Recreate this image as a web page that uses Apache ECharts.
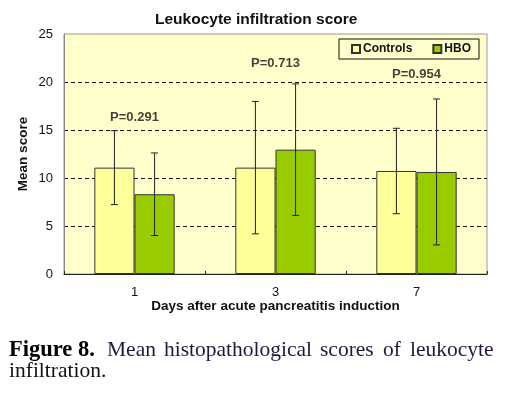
<!DOCTYPE html>
<html><head><meta charset="utf-8">
<script src="https://cdn.jsdelivr.net/npm/echarts@6/dist/echarts.min.js"></script>
<style>html,body{margin:0;padding:0;background:#fff}#c{width:507px;height:396px}</style>
</head><body><div id="c"></div>
<script>
const categories = ['1', '3', '7'];
const controlsMean = [11.08, 11.08, 10.73];
const controlsSD = [3.85, 6.9, 4.45];
const hboMean = [8.31, 12.95, 10.63];
const hboSD = [4.3, 6.85, 7.6];
const pLabels = ['P=0.291', 'P=0.713', 'P=0.954'];
const pLabelLevel = [16.3, 21.9, 20.8];
const yTicks = [0, 5, 10, 15, 20, 25];

const FONT = "'Liberation Sans', Arial, sans-serif";
const SERIF = "'Liberation Serif', 'Times New Roman', serif";
const CAT_GAP = 0.43;

function errItem(sign) {
  return function (params, api) {
    const i = api.value(0);
    const m = api.value(1), s = api.value(2);
    const band = api.size([1, 0])[0];
    const off = sign * band * (1 - CAT_GAP) / 4;
    const top = api.coord([i, m + s]);
    const bot = api.coord([i, m - s]);
    const x = top[0] + off;
    const w = 3.5;
    const st = { stroke: '#222', lineWidth: 1 };
    return { type: 'group', children: [
      { type: 'line', shape: { x1: x, y1: top[1], x2: x, y2: bot[1] }, style: st },
      { type: 'line', shape: { x1: x - w, y1: top[1], x2: x + w, y2: top[1] }, style: st },
      { type: 'line', shape: { x1: x - w, y1: bot[1], x2: x + w, y2: bot[1] }, style: st }
    ]};
  };
}

const capReg = '21.5px ' + SERIF;
const capCol = '#1c1a40';
const chart = echarts.init(document.getElementById('c'), null, { renderer: 'canvas' });
chart.setOption({
  animation: false,
  backgroundColor: '#fff',
  textStyle: { fontFamily: FONT },
  title: {
    text: 'Leukocyte infiltration score', left: 150, top: 7,
    textStyle: { fontFamily: FONT, fontSize: 15.5, fontWeight: 'bold', color: '#111' }
  },
  legend: {
    data: ['Controls', 'HBO'], right: 28, top: 39,
    itemWidth: 8, itemHeight: 8, itemGap: 20, icon: 'rect',
    padding: [4, 8, 4, 12],
    borderColor: '#111', borderWidth: 1, backgroundColor: '#FFFFCC',
    textStyle: { fontFamily: FONT, fontSize: 12, fontWeight: 'bold', color: '#111', padding: [0, 0, 0, -2] }
  },
  grid: {
    left: 64, right: 20, top: 34, bottom: 122, show: true,
    backgroundColor: '#FFFFCC', borderColor: '#999', borderWidth: 1
  },
  xAxis: {
    type: 'category', data: categories,
    name: 'Days after acute pancreatitis induction', nameLocation: 'middle', nameGap: 25,
    nameMoveOverlap: false,
    nameTextStyle: { fontFamily: FONT, fontSize: 13.5, fontWeight: 'bold', color: '#111' },
    axisLine: { lineStyle: { color: '#222', width: 1 } },
    axisTick: { show: true, inside: true, length: 3, lineStyle: { color: '#222' } },
    axisLabel: { fontFamily: FONT, fontSize: 13, color: '#111', margin: 12 }
  },
  yAxis: {
    type: 'value', min: yTicks[0], max: yTicks[yTicks.length - 1], interval: 5,
    name: 'Mean score', nameLocation: 'middle', nameGap: 34,
    nameMoveOverlap: false,
    nameTextStyle: { fontFamily: FONT, fontSize: 13.5, fontWeight: 'bold', color: '#111' },
    axisLine: { show: true, lineStyle: { color: '#888' } },
    axisTick: { show: false },
    axisLabel: { fontFamily: FONT, fontSize: 13, color: '#111', margin: 11 },
    splitLine: { show: true, lineStyle: { type: [4, 3], width: 1,
      color: ['rgba(0,0,0,0)', '#111', '#111', '#111', '#111', 'rgba(0,0,0,0)'] } }
  },
  series: [
    { name: 'Controls', type: 'bar', data: controlsMean, barGap: '0%', barCategoryGap: (CAT_GAP * 100) + '%',
      itemStyle: { color: '#FFFF99', borderColor: '#333', borderWidth: 1 } },
    { name: 'HBO', type: 'bar', data: hboMean, barGap: '0%', barCategoryGap: (CAT_GAP * 100) + '%',
      itemStyle: { color: '#99CC00', borderColor: '#333', borderWidth: 1 } },
    { type: 'custom', renderItem: errItem(-1), z: 5,
      data: controlsMean.map((m, i) => [i, m, controlsSD[i]]) },
    { type: 'custom', renderItem: errItem(1), z: 5,
      data: hboMean.map((m, i) => [i, m, hboSD[i]]) },
    { type: 'scatter', symbolSize: 0, z: 6,
      data: pLabelLevel.map((v, i) => [i, v]),
      label: { show: true, position: 'inside', formatter: p => pLabels[p.dataIndex],
        fontFamily: FONT, fontSize: 13, fontWeight: 'bold', color: '#111' } }
  ],
  graphic: [
    { type: 'text', left: 9, top: 339, style: { text: 'Figure 8.', font: 'bold 22.5px ' + SERIF, fill: '#000' } },
    { type: 'text', left: 107, top: 339.5, style: { text: 'Mean', font: capReg, fill: capCol } },
    { type: 'text', left: 164, top: 339.5, style: { text: 'histopathological', font: capReg, fill: capCol } },
    { type: 'text', left: 320, top: 339.5, style: { text: 'scores', font: capReg, fill: capCol } },
    { type: 'text', left: 383, top: 339.5, style: { text: 'of', font: capReg, fill: capCol } },
    { type: 'text', left: 410, top: 339.5, style: { text: 'leukocyte', font: capReg, fill: capCol } },
    { type: 'text', left: 9, top: 360.5, style: { text: 'infiltration.', font: capReg, fill: '#111' } }
  ]
});
</script></body></html>
